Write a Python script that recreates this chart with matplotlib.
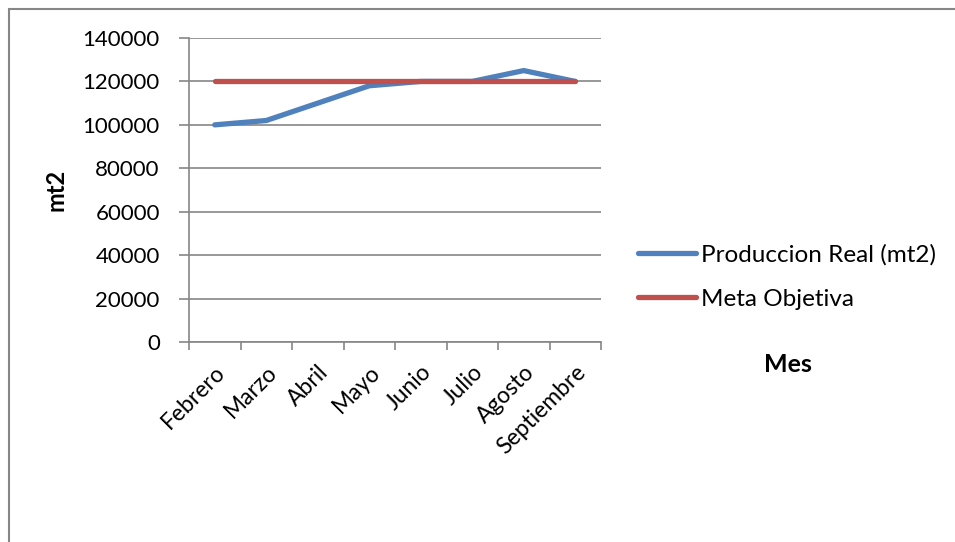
import matplotlib
matplotlib.use("Agg")
import matplotlib.pyplot as plt
from matplotlib.patches import Rectangle
from matplotlib.transforms import ScaledTranslation

months = ["Febrero", "Marzo", "Abril", "Mayo", "Junio", "Julio", "Agosto", "Septiembre"]
produccion = [100000, 102000, 110000, 118000, 120000, 120000, 125000, 120000]
meta = [120000, 120000, 120000, 120000, 120000, 120000, 120000, 120000]
yticks = [0, 20000, 40000, 60000, 80000, 100000, 120000, 140000]

plt.rcParams['font.family'] = ['Lato', 'DejaVu Sans']
W, H = 955, 542
fig = plt.figure(figsize=(W / 100, H / 100), dpi=100)
ax = fig.add_axes([189 / W, 1 - 342 / H, (601 - 189) / W, (342 - 38) / H])

grey = '#868686'
x = list(range(len(months)))
ax.plot(x, produccion, color='#4F81BD', lw=3.8, solid_capstyle='round', solid_joinstyle='round',
        label='Produccion Real (mt2)', zorder=3)
ax.plot(x, meta, color='#C0504D', lw=3.8, solid_capstyle='round', solid_joinstyle='round',
        label='Meta Objetiva', zorder=4)

ax.set_xlim(-0.5, len(months) - 0.5)
ax.set_ylim(0, 140000)
ax.set_yticks(yticks)
ax.set_yticklabels([str(v) for v in yticks], fontsize=16)
ax.yaxis.grid(True, color=grey, lw=1.2)
ax.set_axisbelow(True)

ax.set_xticks(x)
ax.set_xticklabels(months, fontsize=16.5, rotation=45, ha='right', va='top', rotation_mode='anchor')
shift = ScaledTranslation(-6 / 100, 2 / 100, fig.dpi_scale_trans)
for lbl in ax.get_xticklabels():
    lbl.set_transform(lbl.get_transform() + shift)
ax.tick_params(axis='x', which='major', length=0, pad=14)
ax.set_xticks([i - 0.5 for i in range(len(months) + 1)], minor=True)
ax.tick_params(axis='x', which='minor', length=6, width=1.2, color=grey, direction='out')
ax.tick_params(axis='y', length=7, width=1.2, color=grey, direction='out', pad=14)

for s in ['top', 'right']:
    ax.spines[s].set_visible(False)
for s in ['left', 'bottom']:
    ax.spines[s].set_color(grey)
    ax.spines[s].set_linewidth(1.2)

ax.set_ylabel('mt2', fontsize=17, fontweight='bold')
ax.yaxis.set_label_coords((67 - 189) / (601 - 189), 0.5)

fig.text(788 / W, 1 - 364 / H, 'Mes', fontsize=18, fontweight='bold', ha='center', va='center')

fig.legend(loc='center left', bbox_to_anchor=(638 / W, 1 - 277 / H), frameon=False,
           fontsize=17.5, handlelength=2.4, handletextpad=0.2, labelspacing=0.95,
           borderpad=0, borderaxespad=0)

fig.patches.append(Rectangle((9 / W, -0.1), 1.2, 1 - 9 / H + 0.1, transform=fig.transFigure,
                             fill=False, edgecolor=grey, lw=1.5))

fig.savefig('out.png', dpi=100)
